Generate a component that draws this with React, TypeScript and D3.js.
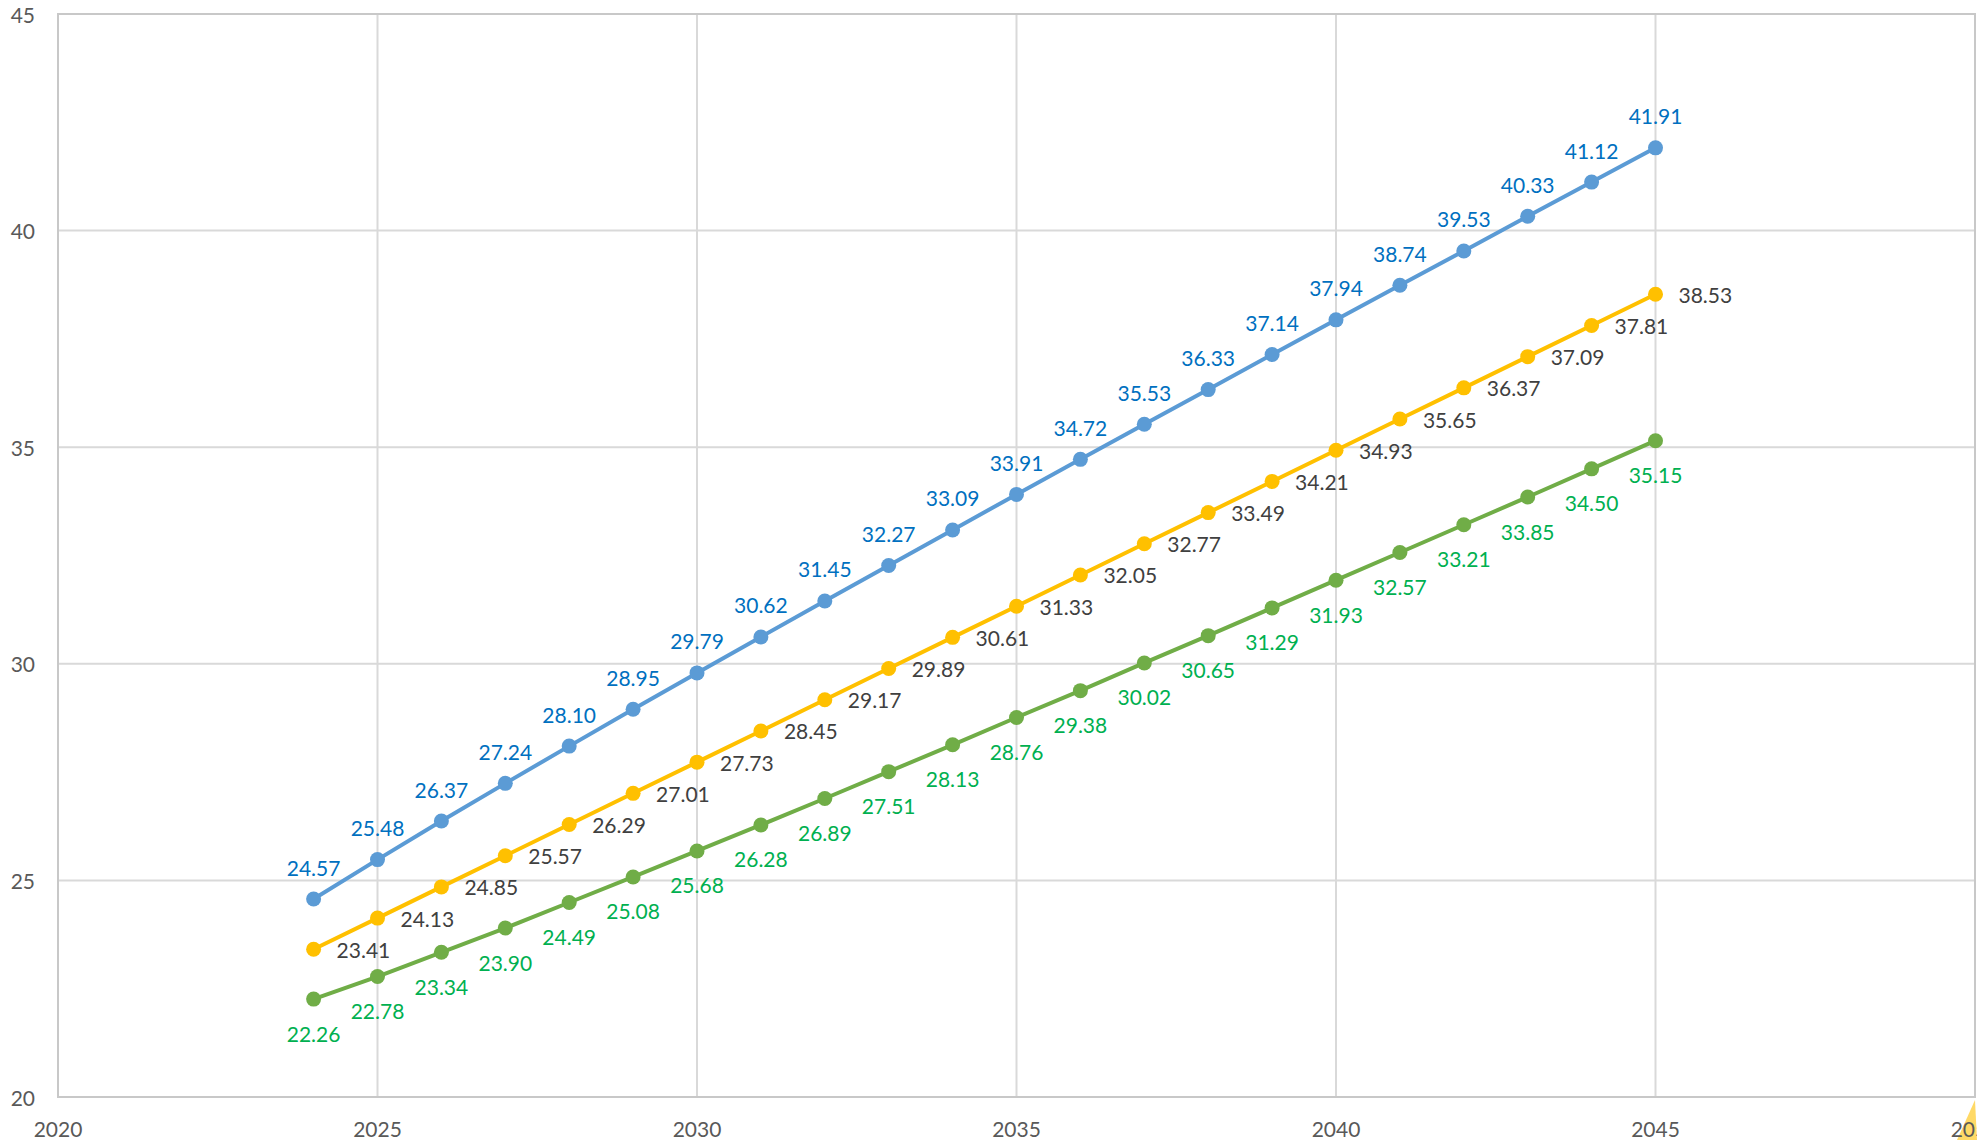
import React from "react";
import * as d3 from "d3";

const years = d3.range(2024, 2046);
const seriesBlue = [24.57, 25.48, 26.37, 27.24, 28.10, 28.95, 29.79, 30.62, 31.45, 32.27, 33.09, 33.91, 34.72, 35.53, 36.33, 37.14, 37.94, 38.74, 39.53, 40.33, 41.12, 41.91];
const seriesYellow = [23.41, 24.13, 24.85, 25.57, 26.29, 27.01, 27.73, 28.45, 29.17, 29.89, 30.61, 31.33, 32.05, 32.77, 33.49, 34.21, 34.93, 35.65, 36.37, 37.09, 37.81, 38.53];
const seriesGreen = [22.26, 22.78, 23.34, 23.90, 24.49, 25.08, 25.68, 26.28, 26.89, 27.51, 28.13, 28.76, 29.38, 30.02, 30.65, 31.29, 31.93, 32.57, 33.21, 33.85, 34.50, 35.15];
const xTicks = [2020, 2025, 2030, 2035, 2040, 2045, 2050];
const yTicks = [20, 25, 30, 35, 40, 45];

const W = 1977, H = 1140;
const L = 58, R = 1975, T = 14, B = 1097;
const FONT = "Lato, 'Open Sans', sans-serif";

export default function App() {
  const x = d3.scaleLinear().domain([2020, 2050]).range([L, R]);
  const y = d3.scaleLinear().domain([20, 45]).range([B, T]);
  const line = d3.line<number>().x((_, i) => x(years[i])).y((d) => y(d));

  const series = [
    { vals: seriesBlue, color: "#5B9BD5", label: "#0070C0", pos: "above" },
    { vals: seriesYellow, color: "#FFC000", label: "#404040", pos: "right" },
    { vals: seriesGreen, color: "#70AD47", label: "#00B050", pos: "below" },
  ];

  return (
    <svg width={W} height={H} style={{ position: "absolute", left: 0, top: 0, background: "#fff" }}>
      <polygon points="1975,1100 1957,1140 1977,1140" fill="#FFD966" />
      {/* grid */}
      {xTicks.slice(1, -1).map((t) => (
        <line key={"gx" + t} x1={x(t)} x2={x(t)} y1={T} y2={B} stroke="#D9D9D9" strokeWidth={2} />
      ))}
      {yTicks.slice(1, -1).map((t) => (
        <line key={"gy" + t} x1={L} x2={R} y1={y(t)} y2={y(t)} stroke="#D9D9D9" strokeWidth={2} />
      ))}
      <rect x={L} y={T} width={R - L} height={B - T} fill="none" stroke="#C8C8C8" strokeWidth={2} />
      {/* axis labels */}
      {yTicks.map((t) => (
        <text key={"yl" + t} x={35} y={y(t)} textAnchor="end" dominantBaseline="central" fontFamily={FONT} fontSize={21} fill="#595959">{t}</text>
      ))}
      {xTicks.map((t) => (
        <text key={"xl" + t} x={x(t)} y={1128} textAnchor="middle" dominantBaseline="central" fontFamily={FONT} fontSize={21} fill="#595959">{t}</text>
      ))}
      {/* series */}
      {series.map((s, si) => (
        <g key={"s" + si}>
          <path d={line(s.vals) || ""} fill="none" stroke={s.color} strokeWidth={4} strokeLinejoin="round" />
          {s.vals.map((v, i) => (
            <circle key={i} cx={x(years[i])} cy={y(v)} r={7.5} fill={s.color} />
          ))}
          {s.vals.map((v, i) => {
            const px = x(years[i]);
            const py = y(v);
            let tx = px, ty = py, anchor: any = "middle";
            if (s.pos === "above") ty = py - 32;
            else if (s.pos === "below") ty = py + 34;
            else { tx = px + 23; anchor = "start"; }
            return (
              <text key={"t" + i} x={tx} y={ty} textAnchor={anchor} dominantBaseline="central" fontFamily={FONT} fontSize={21} fill={s.label}>{v.toFixed(2)}</text>
            );
          })}
        </g>
      ))}
    </svg>
  );
}
